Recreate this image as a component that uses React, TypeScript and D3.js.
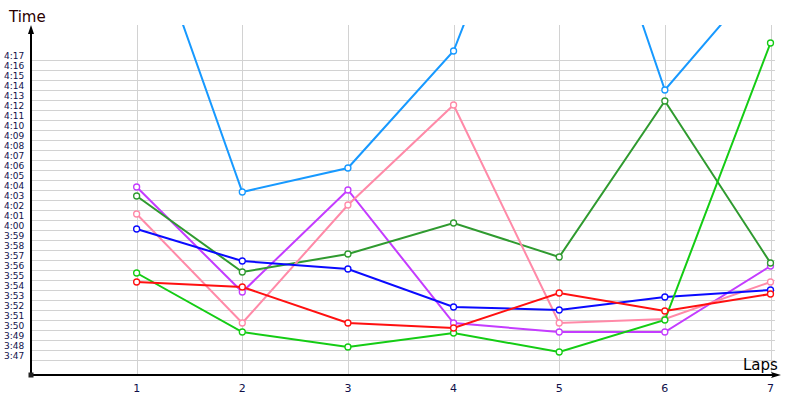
import React from "react";
import * as d3 from "d3";

const laps = [1, 2, 3, 4, 5, 6, 7];
const yTicks = d3.range(227, 258); // 3:47 .. 4:17 in seconds

const seriesNames = ["lightblue", "purple", "darkgreen", "pink", "blue", "brightgreen", "red"];
const lightBlue = [273.6, 243.8, 246.2, 257.9, 285.0, 254.0, 266.3];
const purple = [244.3, 233.8, 244.0, 230.7, 229.8, 229.8, 236.4];
const darkGreen = [243.4, 235.8, 237.6, 240.7, 237.3, 252.9, 236.7];
const pink = [241.6, 230.7, 242.5, 252.5, 230.7, 231.1, 234.8];
const blue = [240.1, 236.9, 236.1, 232.3, 232.0, 233.3, 234.0];
const brightGreen = [235.7, 229.8, 228.3, 229.7, 227.8, 231.0, 258.7];
const red = [234.8, 234.3, 230.7, 230.2, 233.7, 231.9, 233.6];

const seriesValues = [lightBlue, purple, darkGreen, pink, blue, brightGreen, red];
const seriesColors = ["#1799ff", "#c43cff", "#2f9a2f", "#ff8aa8", "#0a0aff", "#14cc14", "#ff1010"];

const W = 800;
const H = 400;

function fmt(s: number) {
  const m = Math.floor(s / 60);
  const sec = s - m * 60;
  return `${m}:${String(sec).padStart(2, "0")}`;
}

export default function App() {
  const x = d3.scaleLinear().domain([0, 7]).range([31, 770.5]);
  const y = d3.scaleLinear().domain([225.5, 260.5]).range([375, 25]);
  const line = d3
    .line<number>()
    .x((_, i) => x(laps[i]))
    .y((d) => y(d));

  const gridLeft = 31;
  const gridRight = 775;
  const axisY = y(225.5);
  const topY = y(260.5);

  return (
    <svg
      width={W}
      height={H}
      style={{ position: "absolute", left: 0, top: 0, background: "#fff" }}
    >
      <defs>
        <clipPath id="plotclip">
          <rect x={31} y={topY} width={760} height={axisY - topY} />
        </clipPath>
      </defs>
      {/* horizontal grid */}
      {yTicks.map((t) => (
        <line
          key={"h" + t}
          x1={gridLeft}
          x2={gridRight}
          y1={Math.round(y(t)) + 0.5}
          y2={Math.round(y(t)) + 0.5}
          stroke="#d2d2d2"
          strokeWidth={1}
        />
      ))}
      {/* vertical grid */}
      {laps.map((l) => (
        <line
          key={"v" + l}
          x1={Math.round(x(l)) + 0.5}
          x2={Math.round(x(l)) + 0.5}
          y1={topY}
          y2={axisY}
          stroke="#d2d2d2"
          strokeWidth={1}
        />
      ))}
      {/* y labels */}
      {yTicks.map((t) => (
        <text
          key={"yl" + t}
          x={4}
          y={y(t) - 1}
          fontFamily="DejaVu Sans, Verdana, sans-serif"
          fontSize={9}
          fill="#10104a"
        >
          {fmt(t)}
        </text>
      ))}
      {/* x labels */}
      {laps.map((l) => (
        <text
          key={"xl" + l}
          x={x(l)}
          y={392}
          textAnchor="middle"
          fontFamily="DejaVu Sans, Verdana, sans-serif"
          fontSize={11}
          fill="#10104a"
        >
          {l}
        </text>
      ))}
      {/* series */}
      <g clipPath="url(#plotclip)">
        {seriesValues.map((vals, si) => (
          <g key={seriesNames[si]}>
            <path d={line(vals) || ""} fill="none" stroke={seriesColors[si]} strokeWidth={2} />
            {vals.map((v, i) => (
              <circle
                key={i}
                cx={x(laps[i])}
                cy={y(v)}
                r={3}
                fill="#fff"
                stroke={seriesColors[si]}
                strokeWidth={1.3}
              />
            ))}
          </g>
        ))}
      </g>
      {/* axes */}
      <line x1={31} x2={31} y1={axisY} y2={30} stroke="#000" strokeWidth={2} />
      <path d="M31,25 L28,34 L34,34 Z" fill="#000" />
      <line x1={31} x2={776} y1={axisY} y2={axisY} stroke="#000" strokeWidth={2} />
      <path d="M781,375 L771,372 L773,375 L771,378 Z" fill="#000" />
      <rect x={28.5} y={372.5} width={5} height={5} fill="#222" />
      <text x={9} y={22} fontFamily="DejaVu Sans, Verdana, sans-serif" fontSize={15} fill="#2a0000">
        Time
      </text>
      <text x={743} y={370} fontFamily="DejaVu Sans, Verdana, sans-serif" fontSize={15} fill="#000">
        Laps
      </text>
    </svg>
  );
}
